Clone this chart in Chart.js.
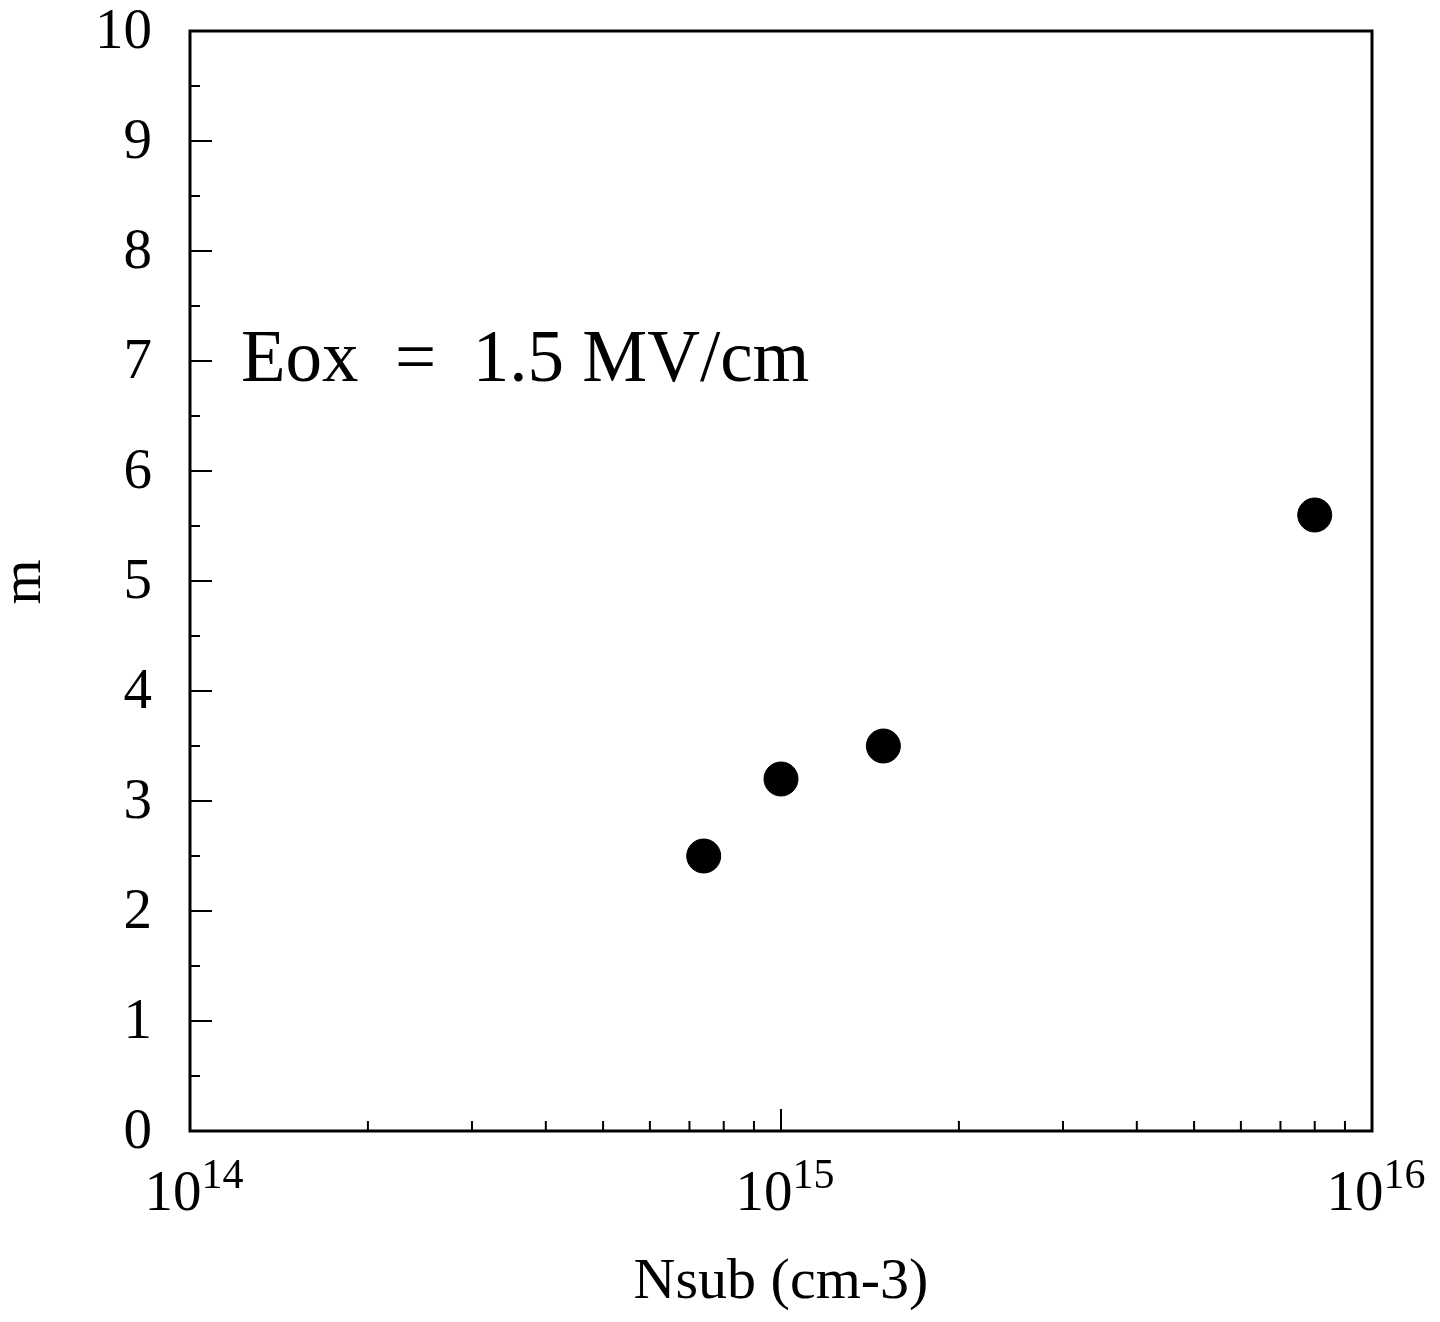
<!DOCTYPE html>
<html>
<head>
<meta charset="utf-8">
<script src="https://cdn.jsdelivr.net/npm/chart.js@4"></script>
<style>
  html, body { margin: 0; padding: 0; background: #fff; }
  #wrap { width: 1440px; height: 1322px; }
</style>
</head>
<body>
<div id="wrap"><canvas id="chart" width="1440" height="1322"></canvas></div>
<script>
// data
const nsub = [7.4e14, 1.0e15, 1.49e15, 8.0e15];
const mVals = [2.5, 3.2, 3.5, 5.6];

const xDecades = [14, 15, 16];
const yMajor = [0, 1, 2, 3, 4, 5, 6, 7, 8, 9, 10];
const yMinor = [0.5, 1.5, 2.5, 3.5, 4.5, 5.5, 6.5, 7.5, 8.5, 9.5];

const FONT = '"Liberation Serif", "Times New Roman", serif';

// frame, inward ticks, labels and note are drawn over the library scales
const framePlugin = {
  id: 'frame',
  afterDraw(c) {
    const ctx = c.ctx;
    const a = c.chartArea;
    const xs = c.scales.x, ys = c.scales.y;
    ctx.save();
    ctx.strokeStyle = '#000';
    ctx.lineWidth = 3;
    ctx.strokeRect(a.left, a.top, a.right - a.left, a.bottom - a.top);

    // y ticks
    ctx.lineWidth = 2;
    ctx.beginPath();
    yMajor.forEach(v => {
      const y = ys.getPixelForValue(v);
      ctx.moveTo(a.left, y); ctx.lineTo(a.left + 22, y);
    });
    yMinor.forEach(v => {
      const y = ys.getPixelForValue(v);
      ctx.moveTo(a.left, y); ctx.lineTo(a.left + 10, y);
    });
    // x ticks
    xDecades.forEach((d, i) => {
      const x = xs.getPixelForValue(Math.pow(10, d));
      ctx.moveTo(x, a.bottom); ctx.lineTo(x, a.bottom - 22);
      if (i < xDecades.length - 1) {
        for (let k = 2; k <= 9; k++) {
          const xm = xs.getPixelForValue(k * Math.pow(10, d));
          ctx.moveTo(xm, a.bottom); ctx.lineTo(xm, a.bottom - 10);
        }
      }
    });
    ctx.stroke();

    ctx.fillStyle = '#000';
    // y labels
    ctx.font = '57px ' + FONT;
    ctx.textAlign = 'right';
    ctx.textBaseline = 'middle';
    yMajor.forEach(v => {
      ctx.fillText(String(v), 152, ys.getPixelForValue(v) + 2);
    });

    // x labels 10^n
    xDecades.forEach(d => {
      const x = xs.getPixelForValue(Math.pow(10, d));
      ctx.font = '57px ' + FONT;
      const wb = ctx.measureText('10').width;
      ctx.font = '42px ' + FONT;
      const we = ctx.measureText(String(d)).width;
      const x0 = x - (wb + we) / 2 + 4;
      ctx.textAlign = 'left';
      ctx.textBaseline = 'alphabetic';
      ctx.font = '57px ' + FONT;
      ctx.fillText('10', x0, 1210);
      ctx.font = '42px ' + FONT;
      ctx.fillText(String(d), x0 + wb, 1188);
    });

    // axis titles
    ctx.font = '58px ' + FONT;
    ctx.textAlign = 'center';
    ctx.fillText('Nsub (cm-3)', 781, 1298);
    ctx.save();
    ctx.translate(40, 582);
    ctx.rotate(-Math.PI / 2);
    ctx.fillText('m', 0, 0);
    ctx.restore();

    // annotation
    ctx.font = '73px ' + FONT;
    ctx.textAlign = 'left';
    ctx.fillText('Eox  =  1.5 MV/cm', 241, 381);
    ctx.restore();
  }
};

new Chart(document.getElementById('chart'), {
  type: 'scatter',
  data: {
    datasets: [{
      label: 'm',
      data: nsub.map((x, i) => ({ x: x, y: mVals[i] })),
      backgroundColor: '#000',
      borderColor: '#000',
      pointRadius: 17,
      pointHoverRadius: 17,
    }]
  },
  options: {
    responsive: false,
    animation: false,
    events: [],
    layout: { padding: { left: 190, right: 68, top: 31, bottom: 191 } },
    plugins: { legend: { display: false }, tooltip: { enabled: false } },
    scales: {
      x: { type: 'logarithmic', min: 1e14, max: 1e16, display: false },
      y: { type: 'linear', min: 0, max: 10, display: false }
    }
  },
  plugins: [framePlugin]
});
</script>
</body>
</html>
